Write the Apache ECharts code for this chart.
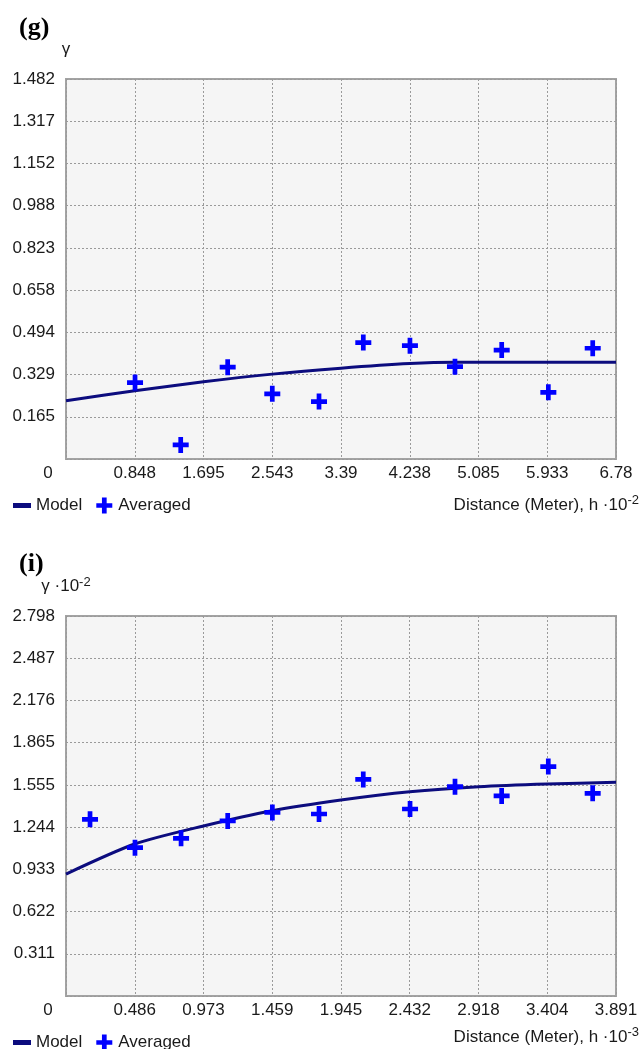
<!DOCTYPE html>
<html>
<head>
<meta charset="utf-8">
<script src="https://cdn.jsdelivr.net/npm/echarts@6/dist/echarts.min.js"></script>
<style>
  html, body { margin: 0; padding: 0; background: #fff; }
  #chart { width: 641px; height: 1049px; }
</style>
</head>
<body>
<div id="chart"></div>
<script>
// tick labels
var gTickX = ['0', '0.848', '1.695', '2.543', '3.39', '4.238', '5.085', '5.933', '6.78'];
var gTickY = ['0', '0.165', '0.329', '0.494', '0.658', '0.823', '0.988', '1.152', '1.317', '1.482'];
var iTickX = ['0', '0.486', '0.973', '1.459', '1.945', '2.432', '2.918', '3.404', '3.891'];
var iTickY = ['0', '0.311', '0.622', '0.933', '1.244', '1.555', '1.865', '2.176', '2.487', '2.798'];

// panel (g)
var gAvgX = [0.851, 1.414, 1.993, 2.543, 3.119, 3.665, 4.240, 4.795, 5.371, 5.946, 6.493];
var gAvgY = [0.298, 0.055, 0.358, 0.254, 0.224, 0.454, 0.442, 0.360, 0.425, 0.260, 0.432];
var gModelX = [0, 0.848, 1.695, 2.543, 3.39, 4.238, 4.8, 5.085, 5.933, 6.78];
var gModelY = [0.227, 0.266, 0.301, 0.331, 0.354, 0.372, 0.377, 0.377, 0.377, 0.377];

// panel (i)
var iAvgX = [0.170, 0.488, 0.814, 1.144, 1.460, 1.790, 2.103, 2.434, 2.752, 3.082, 3.412, 3.726];
var iAvgY = [1.301, 1.092, 1.161, 1.289, 1.352, 1.340, 1.595, 1.377, 1.541, 1.473, 1.689, 1.492];
var iModelX = [0, 0.486, 0.973, 1.459, 1.945, 2.432, 2.918, 3.404, 3.891];
var iModelY = [0.898, 1.119, 1.252, 1.364, 1.443, 1.504, 1.541, 1.561, 1.573];

var chartDom = document.getElementById('chart');
var myChart = echarts.init(chartDom);

var FONT = 'Liberation Sans';
var plusPath = 'path://M6,0 L11,0 L11,6 L17,6 L17,11 L11,11 L11,17 L6,17 L6,11 L0,11 L0,6 L6,6 Z';
var dashPath = 'path://M0,0 L0,0.01 M0,5.5 L18,5.5 L18,10.5 L0,10.5 Z M18,16 L18,15.99';
var navy = '#0c0c7e';
var blue = '#0000ff';
var supStyle = { fontFamily: FONT, fontSize: 13, fill: '#1a1a1a', color: '#1a1a1a', verticalAlign: 'top', lineHeight: 12 };

function zip(xs, ys) {
  return xs.map(function (x, i) { return [x, ys[i]]; });
}

function xAxisFor(idx, labels) {
  var max = +labels[labels.length - 1];
  var step = max / (labels.length - 1);
  return {
    type: 'value', gridIndex: idx, min: 0, max: max, interval: step,
    axisLine: { show: false }, axisTick: { show: false },
    splitLine: { show: true, lineStyle: { color: '#9a9a9a', type: [2, 2], width: 1 } },
    axisLabel: {
      color: '#1a1a1a', fontFamily: FONT, fontSize: 17, margin: 6,
      formatter: function (v) {
        var k = Math.round(v / step);
        return k === 0 ? '{z|0}' : labels[k];
      },
      rich: { z: { fontFamily: FONT, fontSize: 17, color: '#1a1a1a', padding: [0, 36, 0, 0] } }
    }
  };
}

function yAxisFor(idx, labels, name) {
  var max = +labels[labels.length - 1];
  var step = max / (labels.length - 1);
  return {
    type: 'value', gridIndex: idx, min: 0, max: max, interval: step,
    axisLine: { show: false }, axisTick: { show: false },
    splitLine: { show: true, lineStyle: { color: '#9a9a9a', type: [2, 2], width: 1 } },
    axisLabel: {
      color: '#1a1a1a', fontFamily: FONT, fontSize: 17, margin: 11,
      formatter: function (v) {
        var k = Math.round(v / step);
        return k === 0 ? '' : labels[k];
      }
    },
    name: name,
    nameLocation: 'end',
    nameGap: 20,
    nameTextStyle: {
      align: 'center', fontFamily: FONT, fontSize: 17, color: '#1a1a1a', lineHeight: 20,
      rich: { sup: supStyle }
    }
  };
}

function legendAt(top) {
  return {
    top: top, left: 8, itemWidth: 18, itemHeight: 16, itemGap: 14,
    selectedMode: false,
    textStyle: { fontFamily: FONT, fontSize: 17, color: '#1a1a1a' },
    data: [{ name: 'Model', icon: dashPath }, { name: 'Averaged', icon: plusPath }]
  };
}

function axisTitle(top, exp) {
  return {
    type: 'text', right: 2, top: top, silent: true,
    style: {
      text: 'Distance (Meter), h ·10{sup|' + exp + '}',
      fontFamily: FONT, fontSize: 17, fill: '#1a1a1a', lineHeight: 22,
      rich: { sup: supStyle }
    }
  };
}

function modelSeries(idx, data) {
  return {
    name: 'Model', type: 'line', xAxisIndex: idx, yAxisIndex: idx,
    data: data, showSymbol: false, smooth: 0.25,
    lineStyle: { color: navy, width: 3 }, itemStyle: { color: navy },
    z: 3, silent: true
  };
}

function avgSeries(idx, data) {
  return {
    name: 'Averaged', type: 'scatter', xAxisIndex: idx, yAxisIndex: idx,
    data: data, symbol: plusPath, symbolSize: 16,
    itemStyle: { color: blue, opacity: 1 }, z: 4, silent: true
  };
}

var gridStyle = {
  show: true, backgroundColor: '#f5f5f5', borderColor: '#a3a3a3', borderWidth: 2,
  containLabel: false, outerBoundsMode: 'none'
};

var option = {
  animation: false,
  backgroundColor: '#ffffff',
  title: [
    { text: '(g)', left: 14, top: 10, textStyle: { fontFamily: 'Liberation Serif', fontWeight: 'bold', fontSize: 26, color: '#000' } },
    { text: '(i)', left: 14, top: 546, textStyle: { fontFamily: 'Liberation Serif', fontWeight: 'bold', fontSize: 26, color: '#000' } }
  ],
  grid: [
    Object.assign({ left: 66, top: 79, width: 550, height: 380 }, gridStyle),
    Object.assign({ left: 66, top: 616, width: 550, height: 380 }, gridStyle)
  ],
  legend: [legendAt(492), legendAt(1029)],
  graphic: [axisTitle(494, '-2'), axisTitle(1026, '-3')],
  xAxis: [xAxisFor(0, gTickX), xAxisFor(1, iTickX)],
  yAxis: [yAxisFor(0, gTickY, 'γ'), yAxisFor(1, iTickY, 'γ ·10{sup|-2}')],
  series: [
    modelSeries(0, zip(gModelX, gModelY)),
    avgSeries(0, zip(gAvgX, gAvgY)),
    modelSeries(1, zip(iModelX, iModelY)),
    avgSeries(1, zip(iAvgX, iAvgY))
  ]
};

myChart.setOption(option);
window.addEventListener('resize', function () { myChart.resize(); });
</script>
</body>
</html>
